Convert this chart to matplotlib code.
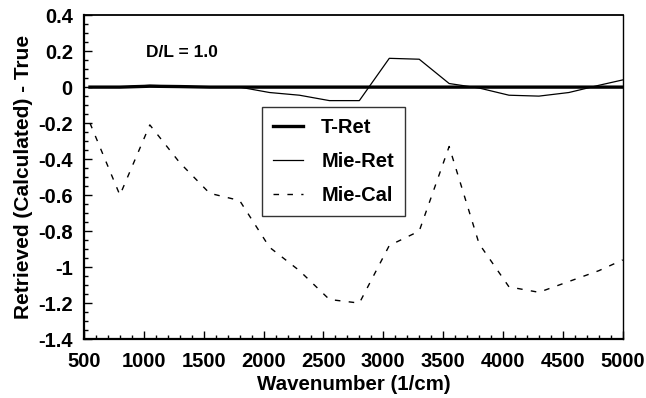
import matplotlib
matplotlib.use("Agg")
import matplotlib.pyplot as plt
from matplotlib.ticker import MultipleLocator

plt.rcParams['font.family'] = ['Liberation Sans', 'DejaVu Sans']
plt.rcParams['font.weight'] = 'bold'

wavenumber = [550, 800, 1050, 1300, 1550, 1800, 2050, 2300, 2550, 2800,
              3050, 3300, 3550, 3800, 4050, 4300, 4550, 4800, 5000]
t_ret = [0.0, 0.0, 0.005, 0.003, 0.0, 0.0, 0.0, 0.0, 0.0, 0.0,
         0.0, 0.0, 0.0, 0.0, 0.0, 0.0, 0.0, 0.0, 0.0]
mie_ret = [0.0, 0.0, 0.01, 0.005, 0.0, 0.0, -0.03, -0.045, -0.075, -0.075,
           0.16, 0.155, 0.02, -0.005, -0.045, -0.05, -0.03, 0.01, 0.04]
mie_cal = [-0.20, -0.60, -0.21, -0.42, -0.59, -0.63, -0.89, -1.02, -1.18, -1.20,
           -0.88, -0.80, -0.33, -0.87, -1.11, -1.14, -1.08, -1.02, -0.96]

fig = plt.figure(figsize=(6.46, 3.98), dpi=100)
ax = fig.add_axes([0.130, 0.148, 0.834, 0.814])

ax.plot(wavenumber, t_ret, color='black', lw=2.4, label='T-Ret', zorder=4)
ax.plot(wavenumber, mie_ret, color='black', lw=0.9, label='Mie-Ret', zorder=3)
ax.plot(wavenumber, mie_cal, color='black', lw=1.0, linestyle=(0, (4, 6)),
        label='Mie-Cal', zorder=3)

ax.set_xlim(500, 5000)
ax.set_ylim(-1.4, 0.4)
ax.xaxis.set_major_locator(MultipleLocator(500))
ax.xaxis.set_minor_locator(MultipleLocator(100))
ax.yaxis.set_major_locator(MultipleLocator(0.2))
ax.yaxis.set_minor_locator(MultipleLocator(0.05))

def fmt(v, pos=None):
    if abs(v) < 1e-9:
        return '0'
    s = ('%.1f' % v)
    if s.endswith('.0') and abs(v) >= 1:
        s = s[:-2]
    return s

ax.yaxis.set_major_formatter(plt.FuncFormatter(fmt))

ax.tick_params(which='both', direction='in', top=False, right=False,
               labelsize=14.5, width=1)
ax.tick_params(which='major', length=6)
ax.tick_params(which='minor', length=3)
ax.tick_params(axis='x', which='major', pad=9)
ax.tick_params(axis='y', which='major', pad=8)
for lab in ax.get_xticklabels() + ax.get_yticklabels():
    lab.set_fontweight('bold')

for side in ['left', 'bottom']:
    ax.spines[side].set_linewidth(1.6)
ax.spines['top'].set_linewidth(1.3)
ax.spines['right'].set_linewidth(1.0)

ax.set_xlabel('Wavenumber (1/cm)', fontsize=14.8, fontweight='bold', labelpad=3)
ax.set_ylabel('Retrieved (Calculated) - True', fontsize=15, fontweight='bold',
              labelpad=4)

ax.text(1020, 0.195, 'D/L = 1.0', fontsize=12.5, fontweight='bold',
        va='center', ha='left')

leg = ax.legend(loc='upper left', bbox_to_anchor=(0.330, 0.716),
                borderaxespad=0,
                frameon=True, fancybox=False, edgecolor='black',
                prop={'weight': 'bold', 'size': 14.5},
                handlelength=1.5, labelspacing=0.75, borderpad=0.55,
                handletextpad=0.9)
leg.get_frame().set_linewidth(1.0)

fig.savefig('out.png', dpi=100)
